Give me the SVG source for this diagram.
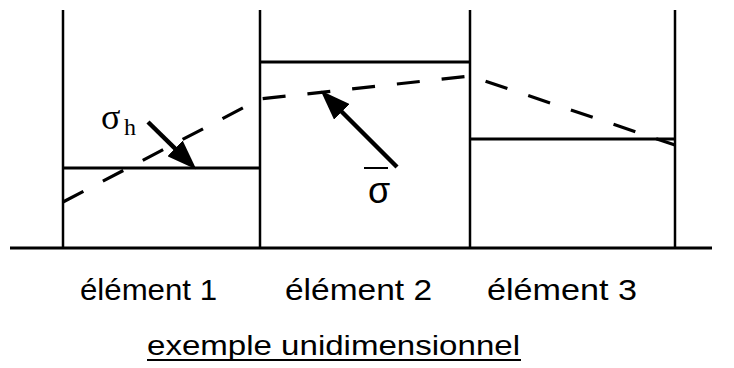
<svg xmlns="http://www.w3.org/2000/svg" width="734" height="368" viewBox="0 0 734 368">
<style>
.ln{stroke:#000;stroke-width:2.5;fill:none}
.lvl{stroke:#000;stroke-width:3;fill:none}
.dash{stroke:#000;stroke-width:3.2;fill:none;stroke-dasharray:23 22}
.arr{stroke:#000;stroke-width:4.5;fill:none;marker-end:url(#ah)}
.lab{font-family:"Liberation Sans",Arial,sans-serif;font-size:29px;fill:#000}
.cap{font-family:"Liberation Sans",Arial,sans-serif;font-size:28px;fill:#000}
.sig{font-family:"Liberation Serif","Times New Roman",serif;fill:#000}
</style>
<defs>
<marker id="ah" viewBox="0 0 30 22" refX="16" refY="11" markerWidth="30" markerHeight="22" markerUnits="userSpaceOnUse" orient="auto">
<path d="M0,0 L30,11 L0,22 z" fill="#000"/>
</marker>
</defs>
<rect width="734" height="368" fill="#fff"/>
<g id="axis">
<line class="lvl" x1="10" y1="248" x2="712" y2="248"/>
<line class="ln" x1="63" y1="10" x2="63" y2="249"/>
<line class="ln" x1="260" y1="10" x2="260" y2="249"/>
<line class="ln" x1="470" y1="10" x2="470" y2="249"/>
<line class="ln" x1="675" y1="10" x2="675" y2="249"/>
</g>
<g id="element1">
<line class="lvl" x1="63" y1="168" x2="260" y2="168"/>
<text class="lab" x="80" y="300" textLength="137" lengthAdjust="spacingAndGlyphs">élément 1</text>
</g>
<g id="element2">
<line class="lvl" x1="260" y1="62" x2="470" y2="62"/>
<text class="lab" x="285" y="300" textLength="147" lengthAdjust="spacingAndGlyphs">élément 2</text>
</g>
<g id="element3">
<line class="lvl" x1="470" y1="139" x2="675" y2="139"/>
<text class="lab" x="487" y="300" textLength="150" lengthAdjust="spacingAndGlyphs">élément 3</text>
</g>
<g id="smoothed">
<polyline class="dash" points="63,202 260,99 470,76 675,145"/>
</g>
<g id="sigma-h">
<text class="sig" x="101" y="129" font-size="36">σ</text>
<text class="sig" x="124" y="135" font-size="24">h</text>
</g>
<g id="sigma-bar">
<line x1="364" y1="168" x2="388" y2="168" stroke="#000" stroke-width="2"/>
<text x="368" y="203" font-family="'Liberation Sans',Arial,sans-serif" font-size="36">σ</text>
</g>
<g id="connectors">
<line class="arr" x1="148" y1="122" x2="186.4" y2="159.6"/>
<line class="arr" x1="397" y1="167" x2="330.5" y2="100.5"/>
</g>
<g id="caption">
<text class="cap" x="147" y="355" textLength="373" lengthAdjust="spacingAndGlyphs">exemple unidimensionnel</text>
<line x1="147" y1="360" x2="521" y2="360" stroke="#000" stroke-width="2"/>
</g>
</svg>
